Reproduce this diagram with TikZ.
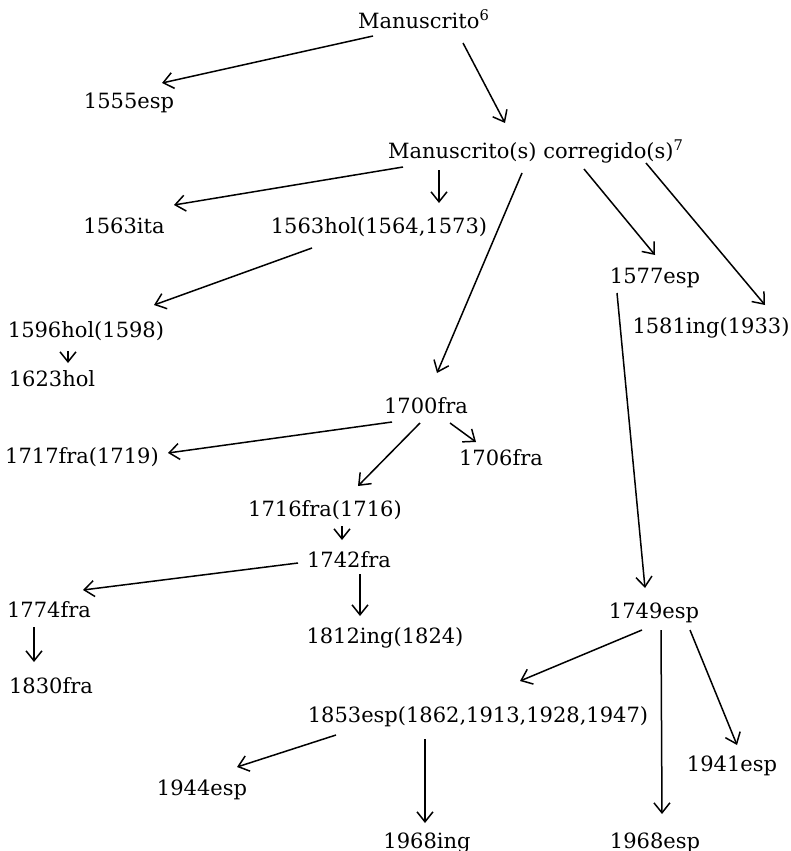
\documentclass[tikz,border=0pt]{standalone}
\usepackage{fontspec}
\setmainfont{DejaVu Serif}
\usetikzlibrary{arrows.meta}

\begin{document}
\begin{tikzpicture}[x=0.5pt,y=-0.5pt,
  lbl/.style={anchor=base,inner sep=0pt,font=\fontsize{10.5}{12}\selectfont},
  arr/.style={-{Straight Barb[length=5pt,width=8pt,line width=0.75pt]},line width=0.75pt}]
\useasboundingbox (0,0) rectangle (791,851);

% texts
\node[lbl] (m) at (424,28) {Manuscrito\textsuperscript{6}};
\node[lbl] (e1555) at (129,108) {1555esp};
\node[lbl] (mc) at (536,158) {Manuscrito(s) corregido(s)\textsuperscript{7}};
\node[lbl] (ita) at (124,233) {1563ita};
\node[lbl] (hol63) at (379,233) {1563hol(1564,1573)};
\node[lbl] (esp77) at (655,283) {1577esp};
\node[lbl] (ing81) at (711,333) {1581ing(1933)};
\node[lbl] (hol96) at (86,337) {1596hol(1598)};
\node[lbl] (hol23) at (52,386) {1623hol};
\node[lbl] (fra00) at (426,413) {1700fra};
\node[lbl] (fra17) at (82,463) {1717fra(1719)};
\node[lbl] (fra06) at (501,465) {1706fra};
\node[lbl] (fra16) at (325,516) {1716fra(1716)};
\node[lbl] (fra42) at (349,567) {1742fra};
\node[lbl] (fra74) at (49,617) {1774fra};
\node[lbl] (ing12) at (385,643) {1812ing(1824)};
\node[lbl] (fra30) at (51,693) {1830fra};
\node[lbl] (esp49) at (654,618) {1749esp};
\node[lbl] (esp53) at (478,722) {1853esp(1862,1913,1928,1947)};
\node[lbl] (esp41) at (732,771) {1941esp};
\node[lbl] (esp44) at (202,795) {1944esp};
\node[lbl] (ing68) at (427,848) {1968ing};
\node[lbl] (esp68) at (655,848) {1968esp};

% arrows
\draw[arr] ([shift={(-51,8)}]m.base) -- ([shift={(33,-25)}]e1555.base);
\draw[arr] ([shift={(39,15)}]m.base) -- ([shift={(-31,-35)}]mc.base);

\draw[arr] ([shift={(-133,9)}]mc.base) -- ([shift={(50,-28)}]ita.base);
\draw[arr] ([shift={(-97,12)}]mc.base) -- ([shift={(60,-30)}]hol63.base);
\draw[arr] ([shift={(-14,15)}]mc.base) -- ([shift={(11,-40)}]fra00.base);
\draw[arr] ([shift={(48,11)}]mc.base) -- ([shift={(0,-28)}]esp77.base);
\draw[arr] ([shift={(110,5)}]mc.base) -- ([shift={(54,-28)}]ing81.base);

\draw[arr] ([shift={(-67,15)}]hol63.base) -- ([shift={(68,-32)}]hol96.base);
\draw[arr] ([shift={(-18,14)}]hol96.base) -- ([shift={(16,-23)}]hol23.base);

\draw[arr] ([shift={(-34,9)}]fra00.base) -- ([shift={(86,-10)}]fra17.base);
\draw[arr] ([shift={(24,10)}]fra00.base) -- ([shift={(-25,-23)}]fra06.base);
\draw[arr] ([shift={(-6,10)}]fra00.base) -- ([shift={(33,-30)}]fra16.base);
\draw[arr] ([shift={(17,10)}]fra16.base) -- ([shift={(-7,-27)}]fra42.base);
\draw[arr] ([shift={(-51,-4)}]fra42.base) -- ([shift={(34,-27)}]fra74.base);
\draw[arr] ([shift={(11,7)}]fra42.base) -- ([shift={(-25,-27)}]ing12.base);
\draw[arr] ([shift={(-15,10)}]fra74.base) -- ([shift={(-17,-31)}]fra30.base);

\draw[arr] ([shift={(-38,10)}]esp77.base) -- ([shift={(-9,-30)}]esp49.base);
\draw[arr] ([shift={(-12,12)}]esp49.base) -- ([shift={(42,-41)}]esp53.base);
\draw[arr] ([shift={(7,12)}]esp49.base) -- ([shift={(7,-34)}]esp68.base);
\draw[arr] ([shift={(36,12)}]esp49.base) -- ([shift={(5,-26)}]esp41.base);
\draw[arr] ([shift={(-142,13)}]esp53.base) -- ([shift={(35,-28)}]esp44.base);
\draw[arr] ([shift={(-53,17)}]esp53.base) -- ([shift={(-2,-25)}]ing68.base);
\end{tikzpicture}
\end{document}
